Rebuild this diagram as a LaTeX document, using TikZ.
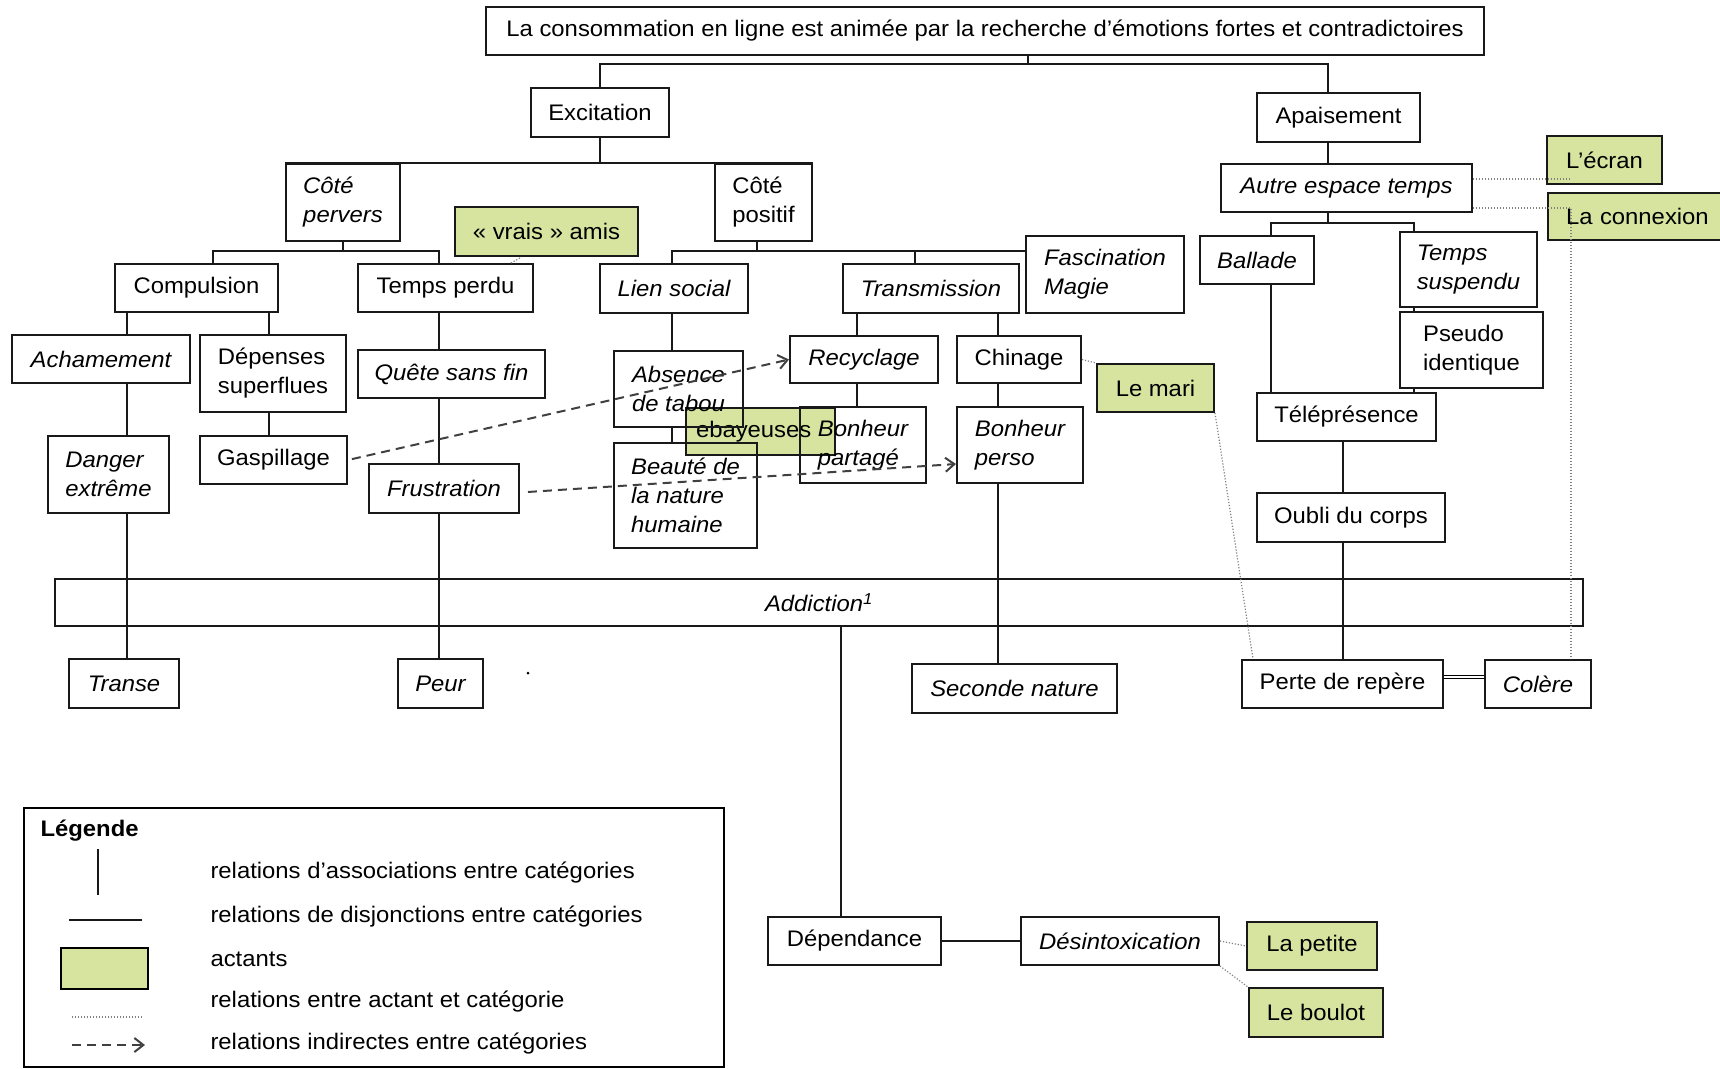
\documentclass[tikz,border=0pt]{standalone}
\usepackage{fontspec}
\setmainfont{Liberation Sans}[FakeStretch=1.06]
\usetikzlibrary{arrows.meta}

\definecolor{actantgreen}{RGB}{214,228,160}

\tikzset{
  cat/.style={draw=black!90, line width=2pt, inner sep=0pt, font=\fontsize{22.5}{29}\selectfont},
  cati/.style={cat, font=\fontsize{22.5}{29}\selectfont\itshape},
  catl/.style={cat, align=left},
  catli/.style={cati, align=left},
  actant/.style={cat, fill=actantgreen},
  assoc/.style={black!90, line width=2pt},
  lien/.style={black!50, line width=1.2pt, dash pattern=on 1.2pt off 1.8pt},
  indirect/.style={black!75, line width=2pt, dash pattern=on 9pt off 6pt,
    -{Straight Barb[length=9pt,width=14pt,line width=2pt]}},
  legtext/.style={anchor=west, font=\fontsize{22.5}{29}\selectfont},
}

\begin{document}
\begin{tikzpicture}[x=1pt, y=-1pt]
  \useasboundingbox (0,0) rectangle (1720,1068);

  % columns of the vertical links
  \coordinate (cA) at (127,0);
  \coordinate (cB) at (269,0);
  \coordinate (cC) at (439,0);
  \coordinate (cD) at (672,0);
  \coordinate (cE) at (857,0);
  \coordinate (cF) at (998,0);
  \coordinate (cG) at (1271,0);
  \coordinate (cH) at (1414,0);
  \coordinate (cI) at (1343,0);
  \coordinate (cJ) at (1328,0);
  \coordinate (cM) at (213,0);
  \coordinate (cN) at (757,0);
  \coordinate (cO) at (915,0);
  \coordinate (cP) at (841,0);
  \coordinate (cR) at (1571,0);

  % actant behind the overlapping boxes
  \node[actant, minimum height=47, text width=129, inner xsep=10pt, align=left] (ebayeuses) at (760.5,431.5) {ebayeuses};

  \node[cat, minimum width=998, minimum height=48] (titre) at (985,31) {La consommation en ligne est animée par la recherche d'émotions fortes et contradictoires};
  \node[cat, minimum width=138, minimum height=49] (excitation) at (600,112.5) {Excitation};
  \node[cat, minimum width=163, minimum height=49] (apaisement) at (1338.5,117.5) {Apaisement};

  \node[catli, minimum width=114, minimum height=77] (cpervers) at (343,202.5) {Côté\\pervers};
  \node[catl, minimum width=97, minimum height=77] (cpositif) at (763.5,202.5) {Côté\\positif};
  \node[actant, minimum width=183, minimum height=49] (vrais) at (546.5,231.5) {« vrais » amis};

  \node[cat, minimum width=163, minimum height=48] (compulsion) at (196.5,288) {Compulsion};
  \node[cat, minimum width=175, minimum height=48] (tempsperdu) at (445.5,288) {Temps perdu};
  \node[cati, minimum width=148, minimum height=49] (liensocial) at (674,288.5) {Lien social};
  \node[cati, minimum width=176, minimum height=49] (transmission) at (931,288.5) {Transmission};
  \node[catli, minimum width=158, minimum height=77] (fascination) at (1105,274.5) {Fascination\\Magie};

  \node[cati, minimum width=178, minimum height=48] (achamement) at (101,359) {Achamement};
  \node[catl, minimum width=146, minimum height=77] (depenses) at (273,373.5) {Dépenses\\superflues};
  \node[catli, minimum width=121, minimum height=77] (danger) at (108.5,474.5) {Danger\\extrême};
  \node[cat, minimum width=147, minimum height=48] (gaspillage) at (273.5,460) {Gaspillage};
  \node[cati, minimum width=110, minimum height=49] (transe) at (124,683.5) {Transe};

  \node[cati, minimum width=187, minimum height=48] (quete) at (451.5,374) {Quête sans fin};
  \node[cati, minimum width=150, minimum height=49] (frustration) at (444,488.5) {Frustration};
  \node[cati, minimum width=85, minimum height=49] (peur) at (440.5,683.5) {Peur};

  \node[catli, minimum width=129, minimum height=76] (absence) at (678.5,389) {Absence\\de tabou};
  \node[catli, minimum width=143, minimum height=105] (beaute) at (685.5,495.5) {Beauté de\\la nature\\humaine};

  \node[cati, minimum width=148, minimum height=47] (recyclage) at (864,359.5) {Recyclage};
  \node[cat, minimum width=124, minimum height=47] (chinage) at (1019,359.5) {Chinage};
  \node[catli, minimum width=126, minimum height=76] (bonheurpartage) at (863,445) {Bonheur\\partagé};
  \node[catli, minimum width=126, minimum height=76] (bonheurperso) at (1020,445) {Bonheur\\perso};
  \node[cati, minimum width=205, minimum height=49] (seconde) at (1014.5,688.5) {Seconde nature};
  \node[actant, minimum width=117, minimum height=48] (lemari) at (1155.5,388) {Le mari};

  \node[cati, minimum width=251, minimum height=48] (autre) at (1346.5,188) {Autre espace temps};
  \node[actant, minimum width=115, minimum height=48] (ecran) at (1604.5,160) {L'écran};
  \node[actant, minimum height=47, text width=156, inner xsep=18pt, align=left] (connexion) at (1644,216.5) {La connexion};
  \node[cati, minimum width=114, minimum height=48] (ballade) at (1257,260) {Ballade};
  \node[catli, minimum width=137, minimum height=75] (tempssusp) at (1468.5,269.5) {Temps\\suspendu};
  \node[catl, minimum width=143, minimum height=76] (pseudo) at (1471.5,350) {Pseudo\\identique};
  \node[cat, minimum width=179, minimum height=48] (telepresence) at (1346.5,417) {Téléprésence};
  \node[cat, minimum width=188, minimum height=49] (oubli) at (1351,517.5) {Oubli du corps};
  \node[cat, minimum width=201, minimum height=48] (perte) at (1342.5,684) {Perte de repère};
  \node[cati, minimum width=106, minimum height=48] (colere) at (1538,684) {Colère};

  \node[cati, minimum width=1528, minimum height=47] (addiction) at (819,602.5) {Addiction\textsuperscript{1}};
  \node[cat, minimum width=173, minimum height=48] (dependance) at (854.5,941) {Dépendance};
  \node[cati, minimum width=198, minimum height=48] (desintox) at (1120,941) {Désintoxication};
  \node[actant, minimum width=130, minimum height=48] (lapetite) at (1312,946) {La petite};
  \node[actant, minimum width=134, minimum height=49] (leboulot) at (1316,1012.5) {Le boulot};

  % associations
  \coordinate (bus1) at (1028,64);
  \draw[assoc] (titre.south -| bus1) -- (bus1);
  \draw[assoc] (excitation.north) |- (bus1) -| (apaisement.north -| cJ);
  \draw[assoc] (excitation.south) -- (excitation.south |- cpervers.north);
  \draw[assoc] (cpervers.north west) -- (cpositif.north east);

  \draw[assoc] (cpervers.south) -- ++(0,9) coordinate (bus2);
  \draw[assoc] (compulsion.north -| cM) |- (bus2) -| (tempsperdu.north -| cC);
  \draw[assoc] (cpositif.south -| cN) -- ++(0,9) coordinate (bus3);
  \draw[assoc] (liensocial.north -| cD) |- (bus3) -- (bus3 -| fascination.west);
  \draw[assoc] (transmission.north -| cO) -- (bus3 -| cO);

  \draw[assoc] (compulsion.south -| cA) -- (achamement.north -| cA);
  \draw[assoc] (compulsion.south -| cB) -- (depenses.north -| cB);
  \draw[assoc] (achamement.south -| cA) -- (danger.north -| cA);
  \draw[assoc] (danger.south -| cA) -- (transe.north -| cA);
  \draw[assoc] (depenses.south -| cB) -- (gaspillage.north -| cB);

  \draw[assoc] (tempsperdu.south -| cC) -- (quete.north -| cC);
  \draw[assoc] (quete.south -| cC) -- (frustration.north -| cC);
  \draw[assoc] (frustration.south -| cC) -- (peur.north -| cC);

  \draw[assoc] (liensocial.south -| cD) -- (absence.north -| cD);
  \draw[assoc] (absence.south -| cD) -- (beaute.north -| cD);
  \draw[assoc] (transmission.south -| cE) -- (recyclage.north -| cE);
  \draw[assoc] (transmission.south -| cF) -- (chinage.north -| cF);
  \draw[assoc] (recyclage.south -| cE) -- (bonheurpartage.north -| cE);
  \draw[assoc] (chinage.south -| cF) -- (bonheurperso.north -| cF);
  \draw[assoc] (bonheurperso.south -| cF) -- (seconde.north -| cF);

  \draw[assoc] (apaisement.south -| cJ) -- (autre.north -| cJ);
  \draw[assoc] (autre.south -| cJ) -- ++(0,10) coordinate (bus4);
  \draw[assoc] (ballade.north -| cG) |- (bus4) -| (tempssusp.north -| cH);
  \draw[assoc] (tempssusp.south -| cH) -- (pseudo.north -| cH);
  \draw[assoc] (pseudo.south -| cH) -- (telepresence.north -| cH);
  \draw[assoc] (ballade.south -| cG) -- (telepresence.north -| cG);
  \draw[assoc] (telepresence.south -| cI) -- (oubli.north -| cI);
  \draw[assoc] (oubli.south -| cI) -- (perte.north -| cI);
  \draw[line width=1pt, double, double distance=1.5pt] ([yshift=7]perte.east) -- ([yshift=7]colere.west);

  \draw[assoc] (addiction.south -| cP) -- (dependance.north -| cP);
  \draw[assoc] (dependance.east) -- (desintox.west);

  % actants
  \draw[lien] ([yshift=9]autre.east) -- ([yshift=9]autre.east -| cR);
  \draw[lien] ([yshift=-20]autre.east) -| (colere.north -| cR);
  \draw[lien] (chinage.east) -- (lemari.north west);
  \draw[lien] (lemari.south east) -- ([xshift=12]perte.north west);
  \draw[lien] ([xshift=-23]tempsperdu.north east) -- ([xshift=-25]vrais.south);
  \draw[lien] (desintox.east) -- (lapetite.west);
  \draw[lien] (desintox.south east) -- (leboulot.north west);

  % indirect
  \draw[indirect, shorten <=4pt] (gaspillage.east) -- (recyclage.west);
  \draw[indirect, shorten <=8pt] ([yshift=-4]frustration.east) -- ([yshift=-19]bonheurperso.west);

  \fill (528,673) circle (1.5);

  % legende
  \draw[line width=1.5pt] (24,808) rectangle (724,1067);
  \node[legtext, font=\fontsize{22.5}{29}\selectfont\bfseries] (legtitre) at (37,831) {Légende};
  \draw[assoc] (98,849) -- (98,895);
  \draw[assoc] (69,920) -- (142,920);
  \draw[line width=2pt, fill=actantgreen] (61,948) rectangle (148,989);
  \draw[lien] (72,1017) -- (143,1017);
  \draw[indirect] (72,1045) -- (145,1045);
  \node[legtext] (leg1) at (207,873) {relations d'associations entre catégories};
  \node[legtext] (leg2) at (207,917) {relations de disjonctions entre catégories};
  \node[legtext] (leg3) at (207,959) {actants};
  \node[legtext] (leg4) at (207,1002) {relations entre actant et catégorie};
  \node[legtext] (leg5) at (207,1044) {relations indirectes entre catégories};
\end{tikzpicture}
\end{document}
